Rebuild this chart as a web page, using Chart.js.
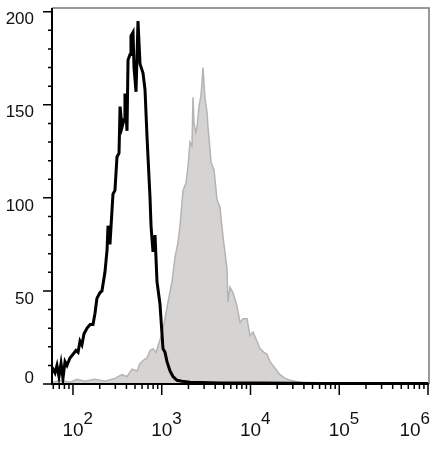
<!DOCTYPE html>
<html>
<head>
<meta charset="utf-8">
<script src="https://cdn.jsdelivr.net/npm/chart.js@4"></script>
<style>
  body { margin: 0; background: #fff; }
  #wrap { width: 439px; height: 452px; }
</style>
</head>
<body>
<div id="wrap"><canvas id="histo" width="439" height="452"></canvas></div>
<script>
// isotype control (black outline)
const blackX = [58, 62.7, 66, 69.5, 73.3, 77.1, 81.3, 85.5, 92.5, 100, 108, 114, 120, 126, 133, 144, 156, 168, 177, 186,
    201, 212, 229, 242, 248, 261, 282, 297, 313, 330, 339, 357, 376, 385, 406, 417, 439, 450, 475, 487,
    513, 540, 569, 615, 648, 682, 700, 738, 757, 797, 840, 884, 955, 1033, 1088, 1146, 1239, 1339, 1486, 1691,
    2081, 2697, 4530, 12800, 60700, 288000, 1000000];
const blackY = [9, 6, 10, 4, 11, 3, 12, 10, 14, 16, 18, 17, 23, 21, 27, 30, 32, 32, 38, 46,
    49, 50, 60, 72, 85, 75, 102, 104, 122, 124, 149, 138, 142, 156, 136, 174, 177, 187, 189, 170,
    157, 195, 172, 167, 158, 133, 122, 100, 85, 71, 80, 55, 43, 19, 17, 12, 7, 4, 2, 1.5,
    1, 0.8, 0.5, 0.5, 0.3, 0.3, 0.3];

// stained sample (grey filled)
const grayX = [59.6, 71.4, 92.5, 111, 136, 177, 229, 297, 357, 406, 462, 526, 569, 631, 682, 738, 797, 861, 931, 1006,
    1088, 1176, 1304, 1410, 1524, 1606, 1736, 1876, 1977, 2081, 2193, 2251, 2309, 2420, 2496, 2630, 2770, 2917, 3073, 3237,
    3322, 3499, 3591, 3882, 4197, 4532, 4775, 5024, 5432, 5572, 5870, 6350, 7046, 7620, 8230, 9140, 9870, 10660, 11830, 12790,
    14190, 15350, 16600, 17940, 19900, 21500, 24500, 27900, 36100, 41100, 46800];
const grayY = [1, 2, 1, 2.5, 1.5, 2.5, 1.5, 3, 5, 4, 8, 7, 11, 13, 14, 18, 19, 17, 22, 27,
    35, 44, 55, 68, 76, 85, 104, 108, 117, 130, 128, 154, 140, 135, 138, 149, 155, 170, 153, 146,
    138, 126, 119, 115, 99, 95, 84, 75, 62, 44, 52, 49, 42, 33, 35, 35, 26, 28, 23, 19,
    17, 16, 12, 10, 7, 5, 3, 2, 1, 0.5, 0];

// axis ticks
const xDecades = [100, 1000, 10000, 100000, 1000000];
const xExponents = ['2', '3', '4', '5', '6'];
const yLabelTicks = [0, 50, 100, 150, 200];
const yMinorStep = 10;

function toPoints(xs, ys) {
    return xs.map((x, i) => ({ x: x, y: ys[i] }));
}

// Draws the frame, ticks and labels from the chart's own scales
const axesPlugin = {
    id: 'axesPlugin',
    afterDraw(chart) {
        const ctx = chart.ctx;
        const a = chart.chartArea;
        const xs = chart.scales.x;
        const ys = chart.scales.y;
        ctx.save();

        // grey frame top / right
        ctx.strokeStyle = '#777';
        ctx.lineWidth = 1.5;
        ctx.beginPath();
        ctx.moveTo(a.left, a.top);
        ctx.lineTo(a.right + 1, a.top);
        ctx.lineTo(a.right + 1, a.bottom);
        ctx.stroke();

        // black axes
        ctx.strokeStyle = '#000';
        ctx.lineWidth = 2;
        ctx.beginPath();
        ctx.moveTo(a.left, a.top);
        ctx.lineTo(a.left, a.bottom + 1);
        ctx.moveTo(a.left - 1, a.bottom);
        ctx.lineTo(a.right + 1, a.bottom);
        ctx.stroke();

        // y ticks
        ctx.lineWidth = 1.5;
        ctx.beginPath();
        for (let v = 0; v <= 200; v += yMinorStep) {
            const py = ys.getPixelForValue(v);
            const len = (v % 50 === 0) ? 9 : 4;
            ctx.moveTo(a.left - len, py);
            ctx.lineTo(a.left, py);
        }
        ctx.stroke();

        // x ticks (log)
        ctx.beginPath();
        xDecades.forEach((d, i) => {
            const px = xs.getPixelForValue(d);
            ctx.moveTo(px, a.bottom);
            ctx.lineTo(px, a.bottom + 11);
            if (i < xDecades.length - 1) {
                for (let m = 2; m <= 9; m++) {
                    const mx = xs.getPixelForValue(d * m);
                    ctx.moveTo(mx, a.bottom);
                    ctx.lineTo(mx, a.bottom + 5);
                }
            }
        });
        // minor ticks below the first decade
        for (let m = 6; m <= 9; m++) {
            const v = m * 10;
            if (v >= xs.min) {
                const mx = xs.getPixelForValue(v);
                ctx.moveTo(mx, a.bottom);
                ctx.lineTo(mx, a.bottom + 5);
            }
        }
        ctx.stroke();

        // y labels
        ctx.fillStyle = '#111';
        ctx.font = '17px "Liberation Sans", Arial, sans-serif';
        ctx.textAlign = 'right';
        ctx.textBaseline = 'middle';
        yLabelTicks.forEach(v => {
            const py = Math.min(ys.getPixelForValue(v) + 8, a.bottom - 6);
            ctx.fillText(String(v), 34, py);
        });

        // x labels: 10 with superscript exponent
        const baseFont = '19px "Liberation Sans", Arial, sans-serif';
        const expFont = '17px "Liberation Sans", Arial, sans-serif';
        ctx.textBaseline = 'alphabetic';
        ctx.textAlign = 'left';
        xDecades.forEach((d, i) => {
            const px = xs.getPixelForValue(d);
            ctx.font = baseFont;
            const w = ctx.measureText('10').width;
            ctx.font = expFont;
            const we = ctx.measureText(xExponents[i]).width;
            let left = px - w / 2;
            // keep the last label inside the canvas
            const maxRight = chart.width - 9;
            if (left + w + we > maxRight) left = maxRight - w - we;
            ctx.font = baseFont;
            ctx.fillText('10', left, 436);
            ctx.font = expFont;
            ctx.fillText(xExponents[i], left + w, 424);
        });

        ctx.restore();
    }
};

function start() {
    const ctx = document.getElementById('histo').getContext('2d');
    new Chart(ctx, {
        type: 'line',
        data: {
            datasets: [
                {
                    label: 'Isotype',
                    data: toPoints(blackX, blackY),
                    borderColor: '#000',
                    borderWidth: 3,
                    pointRadius: 0,
                    tension: 0,
                    fill: false,
                    order: 0
                },
                {
                    label: 'Stained',
                    data: toPoints(grayX, grayY),
                    borderColor: 'rgb(180,180,180)',
                    backgroundColor: 'rgb(214,212,210)',
                    borderWidth: 1.5,
                    pointRadius: 0,
                    tension: 0,
                    fill: 'origin',
                    order: 1
                }
            ]
        },
        options: {
            responsive: false,
            animation: false,
            events: [],
            layout: { padding: { left: 52, right: 11, top: 8, bottom: 68 } },
            plugins: {
                legend: { display: false },
                tooltip: { enabled: false }
            },
            scales: {
                x: {
                    type: 'logarithmic',
                    min: 58,
                    max: 1000000,
                    display: false
                },
                y: {
                    type: 'linear',
                    min: 0,
                    max: 202,
                    display: false
                }
            }
        },
        plugins: [axesPlugin]
    });
}

window.addEventListener('load', start, false);
</script>
</body>
</html>
